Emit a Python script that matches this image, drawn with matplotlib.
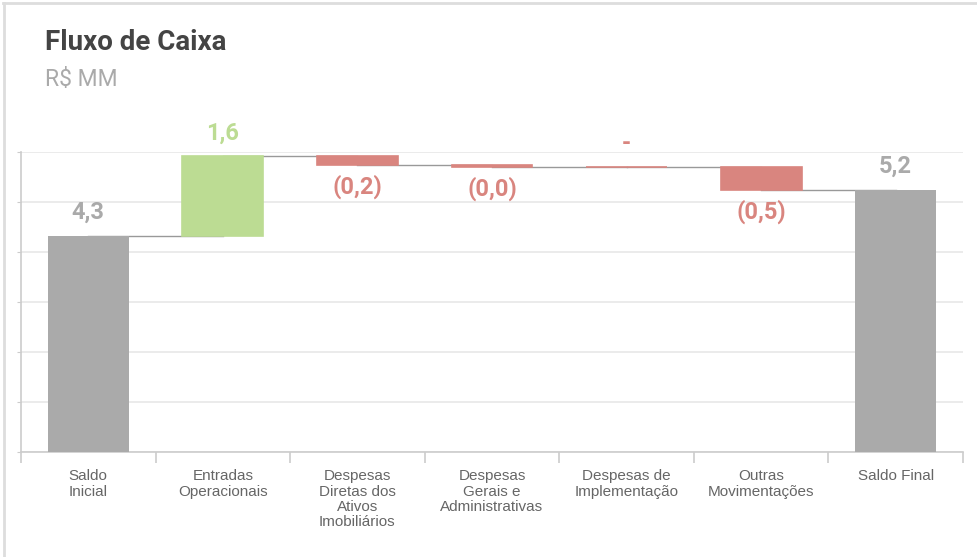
import matplotlib.pyplot as plt
from matplotlib.lines import Line2D

# Fluxo de caixa (R$ MM)
categorias = ["Saldo\nInicial", "Entradas\nOperacionais",
              "Despesas\nDiretas dos\nAtivos\nImobiliários",
              "Despesas\nGerais e\nAdministrativas",
              "Despesas de\nImplementação", "Outras\nMovimentações",
              "Saldo Final"]
saldo_inicial = 4.32
variacoes = [1.60, -0.18, -0.03, 0.0, -0.47]

CINZA = "#aaaaaa"
VERDE = "#bcdc93"
VERMELHO = "#d9857f"
TAM_ROTULO = 17


def fmt(v):
    if v == 0:
        return "-"
    s = f"{abs(v):.1f}".replace(".", ",")
    return f"({s})" if v < 0 else s


fig = plt.figure(figsize=(9.77, 5.57), dpi=100)
fig.patch.set_facecolor("white")
# bordas do cartão (superior e esquerda)
fig.add_artist(Line2D([3 / 977, 1], [1 - 2.5 / 557, 1 - 2.5 / 557],
                      transform=fig.transFigure, color="#dddddd", linewidth=2))
fig.add_artist(Line2D([3.5 / 977, 3.5 / 977], [0, 1 - 2.5 / 557],
                      transform=fig.transFigure, color="#dddddd", linewidth=2))

ax = fig.add_axes([21 / 977, 105 / 557, 942 / 977, 300 / 557])

n = len(categorias)
largura = 0.6
saldo_final = saldo_inicial + sum(variacoes)

# barras de saldo
for x, v in [(0, saldo_inicial), (n - 1, saldo_final)]:
    ax.bar(x, v, width=largura, color=CINZA, zorder=3)
    ax.text(x, v + 0.48, fmt(v), ha="center", va="center",
            fontsize=TAM_ROTULO, fontweight="bold", color=CINZA, family="Roboto")

# barras de variação
nivel = saldo_inicial
niveis = [nivel]
for i, v in enumerate(variacoes, start=1):
    cor = VERDE if v > 0 else VERMELHO
    base = nivel if v >= 0 else nivel + v
    ax.bar(i, abs(v), bottom=base, width=largura, color=cor,
           edgecolor=cor, linewidth=1.2, zorder=3)
    if v >= 0:
        y_txt = nivel + v + 0.46
    else:
        y_txt = base - 0.44
    ax.text(i, y_txt, fmt(v), ha="center", va="center", fontsize=TAM_ROTULO,
            fontweight="bold", color=cor, family="Roboto")
    nivel += v
    niveis.append(nivel)

# linhas de ligação entre as barras
for i, y in enumerate(niveis):
    ax.plot([i, i + 1], [y, y], color="#999999", linewidth=1, zorder=2)

ax.set_xlim(-0.5, n - 0.5)
ax.set_ylim(0, 6)
ax.set_yticks(range(0, 7))
ax.set_yticklabels([])
ax.grid(axis="y", color="#e8e8e8", linewidth=1.2, zorder=0)
ax.tick_params(axis="y", length=3, color="#cccccc")

ax.set_xticks(range(n))
ax.set_xticklabels(categorias, fontsize=11, color="#666666",
                   family="Liberation Sans", linespacing=1.12, va="top")
ax.tick_params(axis="x", length=0, pad=12.5)
ax.set_xticks([i - 0.5 for i in range(n + 1)], minor=True)
ax.tick_params(axis="x", which="minor", length=8, color="#cccccc", width=1.2)

for s in ["top", "right"]:
    ax.spines[s].set_visible(False)
for s in ["left", "bottom"]:
    ax.spines[s].set_color("#cccccc")
    ax.spines[s].set_linewidth(1.2)

fig.text(45 / 977, 1 - 42 / 557, "Fluxo de Caixa", fontsize=20,
         fontweight="bold", color="#444444", family="Roboto", va="center")
fig.text(45 / 977, 1 - 80 / 557, "R$ MM", fontsize=16.5,
         color="#aaaaaa", family="Roboto", va="center")

fig.savefig("out.png", dpi=100)
